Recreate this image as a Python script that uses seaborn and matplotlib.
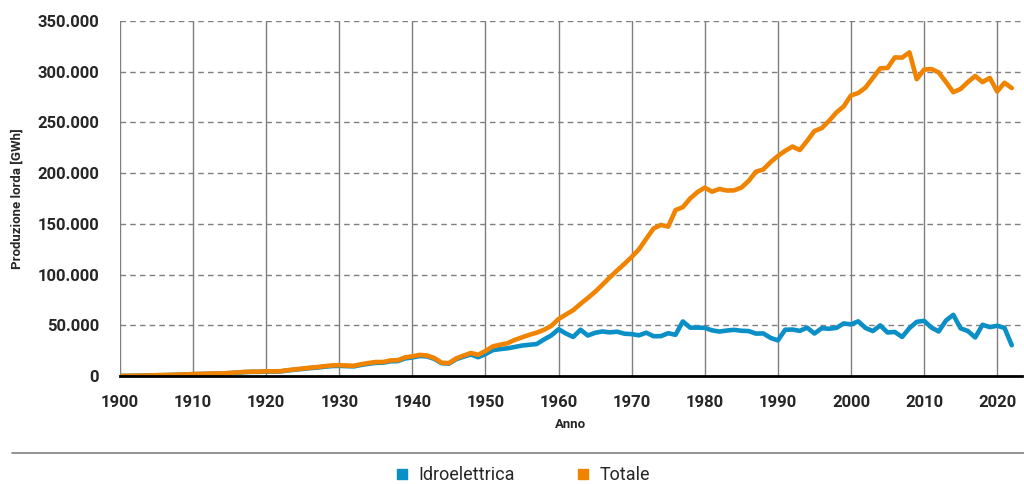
import numpy as np
import pandas as pd
import matplotlib
matplotlib.use("Agg")
import matplotlib.pyplot as plt
import matplotlib.ticker as mticker
from matplotlib.lines import Line2D
import seaborn as sns

years = list(range(1900, 2023))

totale = [
    100, 150, 250, 400, 550, 750, 900, 1100, 1300, 1600,
    1900, 2100, 2300, 2500, 2600, 3000, 3500, 4000, 4300, 4300,
    4700, 4600, 4800, 5800, 6600, 7400, 8200, 8800, 9700, 10400,
    10700, 10300, 10100, 11600, 12800, 13800, 13800, 15400, 15500, 18400,
    19400, 20800, 20200, 17700, 13100, 12700, 17400, 20100, 22700, 20900,
    24700, 29200, 30800, 32300, 35600, 38100, 40600, 42700, 45500, 49400,
    56200, 60600, 64900, 71100, 76900, 83000, 90000, 97200, 104000, 110500,
    117400, 124900, 135300, 145500, 148900, 147300, 163600, 166500, 175000, 181300,
    185700, 181700, 184400, 182900, 183000, 185700, 192300, 201400, 203600, 210800,
    216900, 222000, 226200, 222800, 231800, 241500, 244400, 251500, 259800, 265700,
    276600, 279000, 284400, 293900, 303300, 303700, 314100, 313900, 319100, 292600,
    302100, 302600, 299300, 289800, 279800, 283000, 289800, 295800, 289700, 293900,
    280500, 289100, 283900,
]

idroelettrica = [
    100, 150, 240, 380, 520, 710, 850, 1040, 1230, 1520,
    1800, 1990, 2180, 2370, 2470, 2850, 3320, 3800, 4080, 4080,
    4460, 4370, 4560, 5500, 6250, 7000, 7750, 8300, 9150, 9800,
    10000, 9700, 9500, 10900, 12000, 13000, 13100, 14500, 14700, 17300,
    18300, 19700, 19300, 16900, 12600, 12200, 16600, 19000, 21200, 18500,
    21600, 25500, 26500, 27300, 28600, 30000, 30800, 31500, 36000, 40000,
    46100, 41900, 38500, 45600, 39900, 42600, 43900, 43000, 43700, 41700,
    41300, 40100, 42700, 39200, 39300, 42200, 40600, 53800, 47700, 47700,
    47500, 45000, 43800, 44800, 45500, 44600, 44300, 41800, 42000, 37600,
    35100, 45600, 45800, 44500, 47700, 41900, 47100, 46600, 47400, 51800,
    50900, 53900, 47300, 44300, 49900, 42900, 43400, 38500, 47200, 53400,
    54400, 47800, 43900, 54700, 60300, 47000, 44300, 38000, 50500, 48200,
    49500, 47500, 30300,
]

serie = ["Idroelettrica", "Totale"]
colori = {"Idroelettrica": "#0A8FC6", "Totale": "#F08300"}
yticks = [0, 50000, 100000, 150000, 200000, 250000, 300000, 350000]
xticks = list(range(1900, 2021, 10))

df = pd.DataFrame({"Anno": years * 2,
                   "Valore": idroelettrica + totale,
                   "Serie": ["Idroelettrica"] * len(years) + ["Totale"] * len(years)})

sns.set_style("white")
plt.rcParams['font.family'] = ['Roboto', 'DejaVu Sans']

fig = plt.figure(figsize=(10.24, 4.84), dpi=100)
ax = fig.add_axes([120 / 1024, 108 / 484, 902 / 1024, 355 / 484])

sns.lineplot(data=df, x="Anno", y="Valore", hue="Serie", hue_order=serie,
             palette=colori, linewidth=3.3, ax=ax, legend=False, zorder=3)

ax.set_xlim(1900, 2023.4)
ax.set_ylim(0, 350000)
ax.set_xticks(xticks)
ax.set_yticks(yticks)
ax.yaxis.set_major_formatter(mticker.FuncFormatter(lambda v, p: f"{int(v):,}".replace(",", ".")))

for t in xticks:
    ax.axvline(t, color="#7f7f7f", lw=1, zorder=1)
for t in yticks[1:]:
    ax.axhline(t, color="#7f7f7f", lw=1, ls=(0, (4, 3)), zorder=1)

for s in ["top", "right", "left"]:
    ax.spines[s].set_visible(False)
ax.spines["bottom"].set_color("black")
ax.spines["bottom"].set_linewidth(2)
ax.spines["bottom"].set_zorder(4)

ax.tick_params(axis="x", length=5, color="#7f7f7f", width=1, pad=8.5, labelsize=12)
ax.tick_params(axis="y", length=0, pad=15, labelsize=12)
for lbl in ax.get_xticklabels() + ax.get_yticklabels():
    lbl.set_fontweight("bold")

ax.set_xlabel("Anno", fontsize=9.5, fontweight="bold", labelpad=6)
ax.set_ylabel("Produzione lorda [GWh]", fontsize=9.5, fontweight="bold", labelpad=10)

fig.add_artist(Line2D([12 / 1024, 1.0], [1 - 453 / 484, 1 - 453 / 484],
                      color="#808080", lw=1.2, transform=fig.transFigure))

handles = [Line2D([], [], marker="s", ls="", markersize=7.5, color=colori[s]) for s in serie]
fig.legend(handles, serie, loc="center", bbox_to_anchor=(0.509, 1 - 475 / 484),
           ncol=2, frameon=False, fontsize=13, handletextpad=0.4, columnspacing=3.3,
           handlelength=1)

fig.savefig("out.png", dpi=100)
